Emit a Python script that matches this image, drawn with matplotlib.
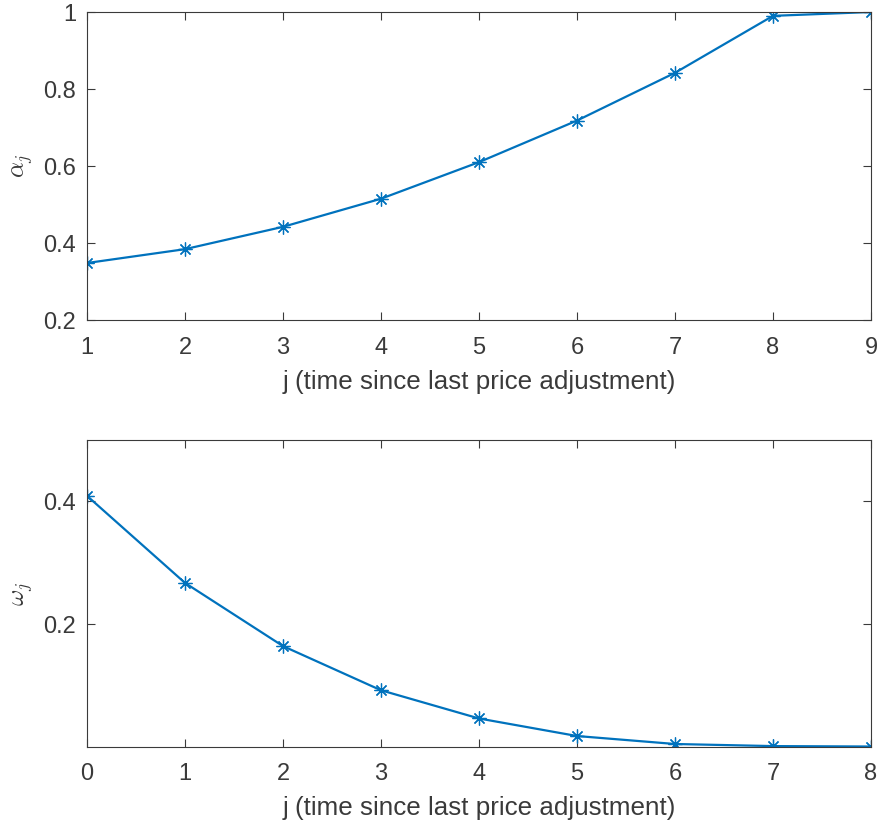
import numpy as np
import matplotlib.pyplot as plt

# data
j_alpha = [1, 2, 3, 4, 5, 6, 7, 8, 9]
alpha = [0.348, 0.384, 0.442, 0.515, 0.610, 0.718, 0.842, 0.990, 1.000]
j_omega = [0, 1, 2, 3, 4, 5, 6, 7, 8]
omega = [0.409, 0.267, 0.164, 0.092, 0.046, 0.0174, 0.0044, 0.001, 0.0003]

plt.rcParams['font.family'] = ['Liberation Sans', 'DejaVu Sans']
plt.rcParams['mathtext.fontset'] = 'cm'
txt = '#3a3a3a'
blue = '#0072BD'
star = (8, 2, 0)  # matlab style asterisk

fig = plt.figure(figsize=(8.8, 8.31), dpi=100)
ax1 = fig.add_axes([87/880, 1-320/831, 784/880, 308/831])
ax2 = fig.add_axes([87/880, 1-746.7/831, 784/880, 306.7/831])

ax1.plot(j_alpha, alpha, color=blue, lw=1.6, marker=star, ms=10, mew=0.9)
ax1.set_xlim(1, 9)
ax1.set_ylim(0.2, 1)
ax1.set_xticks(j_alpha)
ax1.set_yticks([0.2, 0.4, 0.6, 0.8, 1])
ax1.set_yticklabels(['0.2', '0.4', '0.6', '0.8', '1'])
ax1.set_ylabel(r'$\alpha_j$', fontsize=18, color=txt, labelpad=6)

ax2.plot(j_omega, omega, color=blue, lw=1.6, marker=star, ms=10, mew=0.9)
ax2.set_xlim(0, 8)
ax2.set_ylim(0, 0.5)
ax2.set_xticks(j_omega)
ax2.set_yticks([0.2, 0.4])
ax2.set_ylabel(r'$\omega_j$', fontsize=18, color=txt, labelpad=6)

for ax in (ax1, ax2):
    ax.set_xlabel('j (time since last price adjustment)', fontsize=18.7, color=txt, labelpad=8)
    ax.tick_params(direction='in', top=True, right=True, labelsize=17,
                   colors=txt, length=6, width=0.8)
    ax.tick_params(axis='x', pad=12)
    ax.tick_params(axis='y', pad=8)
    for s in ax.spines.values():
        s.set_color(txt)
        s.set_linewidth(0.8)

plt.savefig('out.png')
